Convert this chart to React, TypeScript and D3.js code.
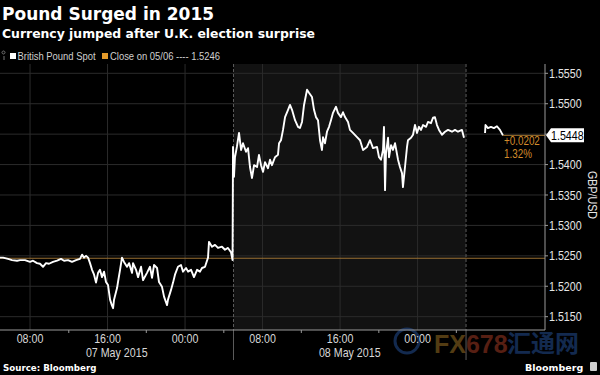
import React, { useEffect, useRef } from "react"
import * as d3 from "d3"

// text
const title = "Pound Surged in 2015"
const subtitle = "Currency jumped after U.K. election surprise"
const seriesName = "British Pound Spot"
const closeLabel = "Close on 05/06 ---- 1.5246"
const source = "Source: Bloomberg"
const axisTitle = "GBP/USD"

const prevClose = 1.5246
const lastPrice = 1.5448
const changeAbs = "+0.0202"
const changePct = "1.32%"

const yTicks = [1.515, 1.52, 1.525, 1.53, 1.535, 1.54, 1.545, 1.55, 1.555]
const dayLabels = ["07 May 2015", "08 May 2015"]
// hours since 07 May 00:00
const sessionBreaks = [4.9, 29, 53]
const viewHours = [4.9, 61.15]

// main session, hours since 07 May 00:00
const hours1 = [
  4.9, 5.21, 5.73, 6.14, 6.66, 6.97, 7.48, 8.0, 8.31, 8.72, 9.03, 9.34, 9.65, 9.96, 10.37, 10.79,
  11.2, 11.51, 11.92, 12.33, 12.75, 13.16, 13.37, 13.57, 13.78, 13.99, 14.19, 14.4, 14.61, 14.81,
  15.02, 15.22, 15.43, 15.64, 15.84, 16.05, 16.26, 16.46, 16.57, 16.67, 16.88, 16.98, 17.08, 17.29,
  17.49, 17.7, 18.01, 18.22, 18.53, 18.63, 18.94, 19.15, 19.46, 19.66, 20.07, 20.38, 20.59, 20.8,
  21.11, 21.31, 21.62, 21.83, 22.14, 22.24, 22.55, 22.76, 22.96, 23.27, 23.58, 23.79, 24.1, 24.31,
  24.62, 24.92, 25.24, 25.54, 25.75, 26.06, 26.37, 26.47, 26.78, 27.09, 27.4, 27.81, 28.12, 28.43,
  28.74, 28.85, 28.9, 28.95, 29.05, 29.15, 29.35, 29.57, 29.78, 29.98, 30.29, 30.5, 30.7, 30.91,
  31.12, 31.43, 31.63, 31.84, 32.05, 32.25, 32.56, 32.77, 32.97, 33.28, 33.59, 33.7, 33.9, 34.11,
  34.32, 34.63, 34.83, 35.04, 35.35, 35.66, 35.86, 36.07, 36.28, 36.59, 36.79, 37.1, 37.31, 37.51,
  37.72, 37.93, 38.13, 38.24, 38.44, 38.65, 38.86, 39.06, 39.27, 39.58, 39.78, 40.09, 40.3, 40.51,
  40.82, 41.02, 41.33, 41.75, 42.06, 42.37, 42.78, 43.09, 43.4, 43.81, 44.02, 44.22, 44.43, 44.53,
  44.64, 44.74, 44.95, 45.05, 45.26, 45.46, 45.67, 45.98, 46.18, 46.39, 46.49, 46.7, 46.91, 47.01,
  47.32, 47.53, 47.73, 47.94, 48.14, 48.35, 48.56, 48.87, 49.07, 49.38, 49.59, 49.79, 50.0, 50.21,
  50.52, 50.83, 51.14, 51.55, 51.86, 52.17, 52.58, 52.79,
]
const prices1 = [
  1.5247, 1.5247, 1.5245, 1.5243, 1.5242, 1.5243, 1.5243, 1.524, 1.5242, 1.5238, 1.5237, 1.5232,
  1.5238, 1.5237, 1.524, 1.5242, 1.5245, 1.5242, 1.5243, 1.524, 1.5243, 1.5245, 1.5252, 1.5247,
  1.525, 1.5247, 1.5238, 1.5227, 1.5219, 1.5206, 1.5222, 1.5227, 1.5215, 1.5224, 1.5207, 1.5202,
  1.5178, 1.5168, 1.5164, 1.5178, 1.5191, 1.5197, 1.5207, 1.5227, 1.5247, 1.524, 1.5232, 1.5238,
  1.5222, 1.5238, 1.5227, 1.5215, 1.5232, 1.521, 1.5222, 1.5232, 1.5214, 1.5235, 1.523, 1.5207,
  1.5199, 1.5183, 1.5169, 1.5178, 1.5194, 1.5206, 1.5219, 1.5232, 1.5235, 1.5224, 1.523, 1.5224,
  1.5227, 1.5215, 1.5227, 1.5224, 1.523, 1.5232, 1.5247, 1.5273, 1.5265, 1.5268, 1.5263, 1.5265,
  1.526, 1.5263, 1.5256, 1.5247, 1.5243, 1.5429, 1.538, 1.5412, 1.5429, 1.5452, 1.5424, 1.5435,
  1.5421, 1.5427, 1.5396, 1.5378, 1.5399, 1.5396, 1.5416, 1.5399, 1.5388, 1.5404, 1.5394, 1.5408,
  1.5399, 1.5412, 1.5416, 1.5435, 1.544, 1.5457, 1.5478, 1.549, 1.5498, 1.549, 1.5473, 1.5462,
  1.546, 1.547, 1.5498, 1.5523, 1.5518, 1.5511, 1.549, 1.5478, 1.5473, 1.544, 1.5424, 1.5445,
  1.5435, 1.5454, 1.5462, 1.5473, 1.5485, 1.5495, 1.5485, 1.5478, 1.5486, 1.5478, 1.547, 1.5457,
  1.5452, 1.5445, 1.544, 1.5424, 1.5429, 1.544, 1.5427, 1.5429, 1.5412, 1.5408, 1.5424, 1.5462,
  1.5358, 1.5419, 1.5444, 1.5412, 1.5432, 1.5424, 1.5435, 1.5408, 1.5396, 1.5386, 1.5363, 1.5396,
  1.5429, 1.544, 1.5444, 1.5449, 1.5465, 1.5452, 1.5462, 1.5457, 1.5465, 1.5462, 1.547, 1.5468,
  1.5477, 1.5478, 1.5465, 1.5457, 1.5449, 1.5454, 1.5457, 1.5454, 1.5457, 1.5454, 1.5457, 1.5444,
]
// after-hours segment
const hours2 = [54.96, 55.01, 55.26, 55.57, 55.88, 56.19, 56.5, 56.81]
const prices2 = [1.5452, 1.5465, 1.546, 1.5462, 1.546, 1.5463, 1.5457, 1.5448]

const SANS = "'Liberation Sans', Arial, sans-serif"
const BOLD = "'DejaVu Sans', Verdana, sans-serif"

const base = new Date(2015, 4, 7)
const toDate = (h: number) => new Date(base.getTime() + h * 36e5)

// squeeze text horizontally so it looks like the narrow terminal font
function condense(sel: any, k = 0.82) {
  sel.each(function (this: SVGTextElement) {
    const w = this.getComputedTextLength()
    this.setAttribute("textLength", String(w * k))
    this.setAttribute("lengthAdjust", "spacingAndGlyphs")
  })
}

function Chart() {
  const ref = useRef<SVGSVGElement>(null)

  useEffect(() => {
    const svg = d3.select(ref.current)
    svg.selectAll("*").remove()

    const W = 600, H = 375
    const left = 0, right = 545, top = 64, bottom = 330

    const x = d3.scaleTime().domain(viewHours.map(toDate)).range([left, right])
    const y = d3.scaleLinear().domain([1.51281, 1.55653]).range([bottom, top])

    svg.append("rect").attr("width", W).attr("height", H).attr("fill", "#000")

    // shaded session
    svg.append("rect")
      .attr("x", x(toDate(sessionBreaks[1])))
      .attr("y", top)
      .attr("width", x(toDate(sessionBreaks[2])) - x(toDate(sessionBreaks[1])))
      .attr("height", bottom - top)
      .attr("fill", "#121212")

    // watermark (sits behind the axis text)
    const wm = svg.append("g").attr("opacity", 0.45)
    wm.append("circle").attr("cx", 407).attr("cy", 341).attr("r", 12)
      .attr("fill", "none").attr("stroke", "#2a5db0").attr("stroke-width", 3)
    wm.append("text").attr("x", 434).attr("y", 353)
      .attr("font-size", 25).attr("font-weight", "bold").attr("font-family", SANS)
      .selectAll("tspan").data([["FX", "#b8862a"], ["678", "#c0452a"]]).enter().append("tspan")
      .attr("fill", d => d[1]).text(d => d[0])
    wm.append("text").attr("x", 507).attr("y", 352)
      .attr("font-size", 24).attr("font-weight", "bold").attr("font-family", "'Noto Sans CJK SC', sans-serif")
      .attr("fill", "#2a5db0")
      .text("汇通网")

    // grid
    const majors = x.ticks(d3.timeHour.every(8) as any).filter(d => d < toDate(sessionBreaks[2]))
    const minors = x.ticks(d3.timeHour.every(4) as any)
      .filter(d => d.getHours() % 8 !== 0 && d < toDate(sessionBreaks[2]))

    svg.append("g").selectAll("line").data(yTicks).enter().append("line")
      .attr("x1", left).attr("x2", right)
      .attr("y1", d => y(d)).attr("y2", d => y(d))
      .attr("stroke", "#2b2b2b").attr("stroke-width", 1)

    svg.append("g").selectAll("line").data(majors).enter().append("line")
      .attr("x1", d => x(d)).attr("x2", d => x(d))
      .attr("y1", top).attr("y2", bottom)
      .attr("stroke", "#2b2b2b").attr("stroke-width", 1)

    // session separators
    svg.append("g").selectAll("line").data(sessionBreaks.slice(1)).enter().append("line")
      .attr("x1", d => x(toDate(d))).attr("x2", d => x(toDate(d)))
      .attr("y1", top).attr("y2", bottom)
      .attr("stroke", "#5a5a5a").attr("stroke-dasharray", "3,2")
    svg.append("g").selectAll("line").data(sessionBreaks.slice(1)).enter().append("line")
      .attr("x1", d => x(toDate(d))).attr("x2", d => x(toDate(d)))
      .attr("y1", bottom).attr("y2", 360)
      .attr("stroke", "#5a5a5a")

    // previous close
    svg.append("line")
      .attr("x1", left).attr("x2", right)
      .attr("y1", y(prevClose)).attr("y2", y(prevClose))
      .attr("stroke", "#9a7033").attr("stroke-width", 1.2)

    // price lines
    const line = d3.line<[number, number]>()
      .x(d => x(toDate(d[0])))
      .y(d => y(d[1]))
    const seg1 = hours1.map((h, i) => [h, prices1[i]] as [number, number])
    const seg2 = hours2.map((h, i) => [h, prices2[i]] as [number, number])
    svg.append("g").selectAll("path").data([seg1, seg2]).enter().append("path")
      .attr("d", d => line(d))
      .attr("fill", "none")
      .attr("stroke", "#fff")
      .attr("stroke-width", 1.9)
      .attr("stroke-linejoin", "round")

    // change marker
    const ly = y(lastPrice)
    const lastX = x(toDate(hours2[hours2.length - 1]))
    svg.append("line")
      .attr("x1", lastX).attr("x2", right)
      .attr("y1", ly).attr("y2", ly)
      .attr("stroke", "#a0722f")
    svg.append("text").attr("x", 504).attr("y", ly + 9.5)
      .attr("fill", "#d38c2c").attr("font-size", 12).attr("font-family", SANS)
      .text(changeAbs).call(condense)
    svg.append("text").attr("x", 504).attr("y", ly + 22.5)
      .attr("fill", "#d38c2c").attr("font-size", 12).attr("font-family", SANS)
      .text(changePct).call(condense)

    // y axis
    svg.append("line").attr("x1", right).attr("x2", right).attr("y1", top).attr("y2", bottom)
      .attr("stroke", "#9a9a9a")
    const yAxis = svg.append("g")
    yAxis.selectAll("line").data(yTicks).enter().append("line")
      .attr("x1", right).attr("x2", right + 3)
      .attr("y1", d => y(d)).attr("y2", d => y(d))
      .attr("stroke", "#9a9a9a")
    yAxis.selectAll("text").data(yTicks.filter(d => Math.abs(y(d) - ly) > 9)).enter().append("text")
      .attr("x", 549).attr("y", d => y(d)).attr("dy", "0.35em")
      .attr("fill", "#e6e6e6").attr("font-size", 13).attr("font-family", SANS)
      .text(d => d3.format(".4f")(d))
      .call(condense)

    // last price tag
    svg.append("path")
      .attr("d", `M${right + 1},${ly} L${right + 6},${ly - 7} L584,${ly - 7} L584,${ly + 7} L${right + 6},${ly + 7} Z`)
      .attr("fill", "#fff")
    svg.append("text").attr("x", 551).attr("y", ly).attr("dy", "0.36em")
      .attr("fill", "#000").attr("font-size", 13).attr("font-family", SANS)
      .text(d3.format(".4f")(lastPrice))
      .call(condense)

    svg.append("text")
      .attr("transform", `translate(588,${(top + bottom) / 2 - 2}) rotate(90)`)
      .attr("text-anchor", "middle")
      .attr("fill", "#e6e6e6").attr("font-size", 13).attr("font-family", SANS)
      .text(axisTitle)
      .call(condense)

    // x axis
    svg.append("line").attr("x1", left).attr("x2", right).attr("y1", bottom).attr("y2", bottom)
      .attr("stroke", "#9a9a9a")
    svg.append("g").selectAll("line").data(minors).enter().append("line")
      .attr("x1", d => x(d)).attr("x2", d => x(d))
      .attr("y1", bottom).attr("y2", bottom + 3)
      .attr("stroke", "#9a9a9a")
    svg.append("g").selectAll("text").data(majors).enter().append("text")
      .attr("x", d => x(d)).attr("y", 343)
      .attr("text-anchor", "middle")
      .attr("fill", "#d8d8d8").attr("font-size", 13).attr("font-family", SANS)
      .text(d => d3.timeFormat("%H:%M")(d))
      .call(condense)
    svg.append("g").selectAll("text").data(dayLabels).enter().append("text")
      .attr("x", (d, i) => (x(toDate(sessionBreaks[i])) + x(toDate(sessionBreaks[i + 1]))) / 2)
      .attr("y", 357)
      .attr("text-anchor", "middle")
      .attr("fill", "#d8d8d8").attr("font-size", 13).attr("font-family", SANS)
      .text(d => d)
      .call(condense)

    // titles
    svg.append("text").attr("x", 2).attr("y", 19.5)
      .attr("fill", "#fff").attr("font-size", 17).attr("font-weight", "bold").attr("font-family", BOLD)
      .text(title)
    svg.append("text").attr("x", 2).attr("y", 37.5)
      .attr("fill", "#fff").attr("font-size", 12.4).attr("font-weight", "bold").attr("font-family", BOLD)
      .text(subtitle)

    // legend
    const lg = svg.append("g")
    lg.append("path").attr("d", "M3.5,54 a1.5,1.5 0 1,1 0.01,0 M4,56 L4,60")
      .attr("stroke", "#777").attr("fill", "none").attr("stroke-width", 1)
    lg.append("rect").attr("x", 10).attr("y", 53).attr("width", 6).attr("height", 6).attr("fill", "#fff")
    lg.append("text").attr("x", 17.5).attr("y", 60)
      .attr("fill", "#cfcfcf").attr("font-size", 11.5).attr("font-family", SANS)
      .text(seriesName)
      .call(condense)
    lg.append("rect").attr("x", 102).attr("y", 53).attr("width", 6).attr("height", 6).attr("fill", "#e39a2a")
    lg.append("text").attr("x", 110).attr("y", 60)
      .attr("fill", "#cfcfcf").attr("font-size", 11.5).attr("font-family", SANS)
      .text(closeLabel)
      .call(condense)

    // footer
    svg.append("text").attr("x", 3).attr("y", 371)
      .attr("fill", "#fff").attr("font-size", 8.7).attr("font-weight", "bold").attr("font-family", BOLD)
      .text(source)
    svg.append("text").attr("x", 525).attr("y", 371)
      .attr("fill", "#fff").attr("font-size", 9.5).attr("font-weight", "bold").attr("font-family", BOLD)
      .text("Bloomberg")
    svg.append("rect").attr("x", 590).attr("y", 362).attr("width", 7).attr("height", 9)
      .attr("rx", 1).attr("fill", "#cfcfcf")
  }, [])

  return <svg ref={ref} width={600} height={375} style={{ position: "absolute", left: 0, top: 0 }} />
}

export default function App() {
  return <Chart />
}
